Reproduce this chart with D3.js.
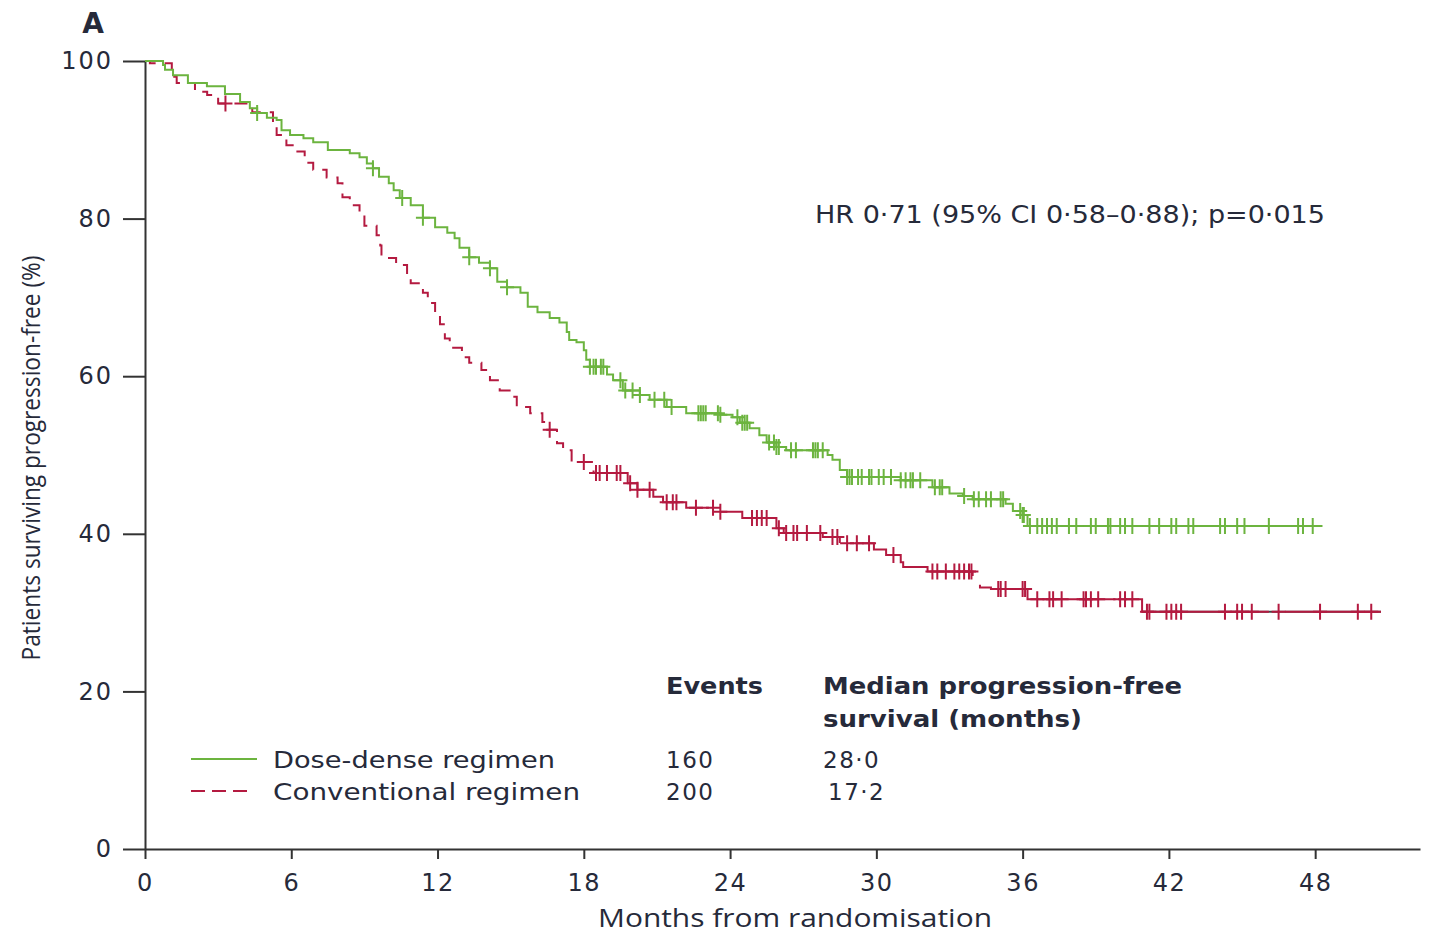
<!DOCTYPE html>
<html>
<head>
<meta charset="utf-8">
<script src="https://cdn.jsdelivr.net/npm/d3@7"></script>
<style>
  body { margin: 0; background: #fff; }
  text { fill: #262a3a; }
</style>
</head>
<body>
<svg width="1430" height="936"></svg>
<script>
// step points: month where the curve drops, and % after the drop
const denseMonths = [0, 0.74, 0.82, 1.15, 1.76, 2.54, 3.28, 3.9, 4.3, 4.6, 5.0, 5.4, 5.6, 5.95, 6.5, 6.9, 7.5, 8.4, 8.8, 9.1,
  9.35, 9.6, 10.0, 10.2, 10.45, 10.9, 11.4, 11.9, 12.4, 12.7, 12.9, 13.3, 13.7, 14.15, 14.45, 14.85, 15.4, 15.7, 16.1, 16.6,
  17.0, 17.3, 17.4, 17.7, 18.0, 18.1, 18.25, 18.95, 19.2, 19.6, 20.3, 20.7, 21.4, 22.2, 23.6, 24.1, 24.4, 24.8, 25.2, 25.5,
  25.9, 26.3, 28.0, 28.2, 28.5, 28.8, 31.0, 32.3, 33.0, 33.55, 33.95, 35.3, 35.6, 36.0, 36.2, 48.3];
const denseSurv = [100, 99.5, 98.9, 98.2, 97.2, 96.8, 95.8, 94.8, 94.0, 93.4, 92.8, 92.5, 91.2, 90.6, 90.2, 89.7, 88.7, 88.3, 87.8, 87.0,
  86.4, 85.3, 84.5, 83.6, 82.6, 81.7, 80.1, 78.9, 78.2, 77.5, 76.3, 75.1, 74.4, 73.7, 72.0, 71.3, 70.6, 68.8, 68.1, 67.4,
  66.8, 65.6, 64.6, 64.3, 63.3, 62.1, 61.2, 60.2, 59.5, 58.2, 57.6, 57.0, 56.1, 55.3, 55.1, 54.8, 54.1, 53.4, 52.5, 51.6,
  51.0, 50.6, 50.0, 49.4, 48.1, 47.2, 46.8, 45.9, 45.1, 44.8, 44.4, 43.8, 42.9, 42.4, 41.0, 41.0];
const denseCensor = [4.6, 9.35, 10.55, 11.4, 13.3, 14.15, 14.85, 18.25, 18.4, 18.5, 18.7, 18.8, 19.5, 19.7, 20.0, 20.3, 20.9, 21.3, 21.6,
  22.7, 22.8, 22.9, 23.0, 23.5, 23.6, 24.3, 24.5, 24.6, 24.7, 25.6, 25.8, 25.9, 26.0, 26.5, 26.7, 27.4, 27.5, 27.6, 27.8,
  28.8, 28.9, 29.0, 29.25, 29.4, 29.7, 29.8, 30.1, 30.3, 30.6, 31.0, 31.2, 31.4, 31.5, 31.8, 32.4, 32.6, 32.7,
  33.6, 34.0, 34.2, 34.5, 34.7, 35.1, 35.2, 35.9, 36.0, 36.05, 36.3, 36.6, 36.8, 37.0, 37.2, 37.4, 37.9, 38.2,
  38.8, 39.0, 39.5, 39.6, 40.0, 40.2, 40.5, 41.2, 41.6, 42.1, 42.3, 42.8, 43.0, 44.1, 44.3, 44.8, 45.1, 46.1, 47.3, 47.5, 47.9];

const convMonths = [0, 0.2, 1.1, 1.3, 2.05, 2.55, 3.0, 4.4, 5.25, 5.4, 5.8, 6.15, 6.55, 6.9, 7.45, 7.9, 8.1, 8.4, 8.8, 9.0, 9.5,
  9.65, 9.7, 10.3, 10.75, 10.9, 11.4, 11.6, 11.9, 12.1, 12.3, 12.5, 13.0, 13.3, 13.8, 14.15, 14.55, 15.0, 15.25, 15.8, 16.3,
  16.5, 16.9, 17.15, 17.5, 18.4, 19.8, 20.2, 20.85, 21.25, 22.2, 23.6, 24.5, 25.9, 26.2, 27.8, 28.5, 29.9, 30.4, 31.0, 31.1,
  32.1, 33.95, 34.25, 34.7, 36.2, 40.9, 50.7];
const convSurv = [100, 99.7, 98.0, 97.2, 96.1, 95.7, 94.6, 93.5, 91.6, 90.6, 89.3, 88.5, 87.1, 86.2, 85.2, 84.5, 82.7, 81.7, 80.6, 79.1, 77.9,
  76.6, 75.0, 74.1, 72.8, 71.8, 70.6, 69.3, 68.0, 66.6, 64.8, 63.6, 62.4, 61.7, 60.8, 59.5, 58.2, 57.4, 56.1, 55.3, 54.2,
  53.2, 51.5, 50.6, 49.1, 47.7, 46.4, 45.6, 44.7, 44.0, 43.3, 42.8, 42.0, 40.7, 40.1, 39.6, 38.8, 38.0, 37.3, 36.4, 35.8,
  35.2, 34.3, 33.2, 33.0, 31.7, 30.1, 30.1];
const convCensor = [3.3, 16.6, 18.0, 18.5, 18.65, 18.95, 19.35, 19.5, 19.9, 20.2, 20.7, 21.4, 21.65, 21.8, 22.6, 23.3, 23.6,
  24.9, 25.1, 25.3, 25.5, 26.0, 26.3, 26.6, 26.75, 27.15, 27.7, 28.2, 28.4, 28.8, 29.2, 29.7, 30.7, 32.3, 32.5, 32.85,
  33.2, 33.4, 33.6, 33.8, 33.9, 35.0, 35.1, 35.3, 36.0, 36.1, 36.6, 37.1, 37.25, 37.6, 38.5, 38.6, 38.8, 39.1, 40.0, 40.2,
  40.5, 41.1, 41.2, 41.9, 42.1, 42.3, 42.5, 44.3, 44.8, 45.0, 45.4, 46.5, 48.2, 49.75, 50.3];

const xTicks = [0, 6, 12, 18, 24, 30, 36, 42, 48];
const yTicks = [0, 20, 40, 60, 80, 100];
const groups = ["Dose-dense regimen", "Conventional regimen"];
const events = ["160", "200"];
const medians = ["28·0", "17·2"];

const green = "#6cb43f";
const red = "#b41a40";
const ink = "#262a3a";

const svg = d3.select("svg");
const x = d3.scaleLinear().domain([0, 52.3]).range([145, 1420]);
const y = d3.scaleLinear().domain([0, 100]).range([849, 61]);

// axes
svg.append("g")
    .attr("transform", `translate(0,${y(0)})`)
    .call(d3.axisBottom(x).tickValues(xTicks).tickSize(10).tickPadding(15).tickSizeOuter(0))
    .call(g => g.selectAll("line, path").attr("stroke", "#333").attr("stroke-width", 2))
    .call(g => g.selectAll("text").attr("font-family", "DejaVu Sans").attr("font-size", 24)
        .attr("letter-spacing", 1.5).attr("fill", ink));

svg.append("g")
    .attr("transform", `translate(${x(0)},0)`)
    .call(d3.axisLeft(y).tickValues(yTicks).tickSize(22).tickPadding(10).tickSizeOuter(0))
    .call(g => g.selectAll("line, path").attr("stroke", "#333").attr("stroke-width", 2))
    .call(g => g.selectAll("text").attr("font-family", "DejaVu Sans").attr("font-size", 24)
        .attr("letter-spacing", 2).attr("fill", ink));

// axis titles
svg.append("text")
    .attr("x", 795).attr("y", 927)
    .attr("text-anchor", "middle")
    .attr("font-family", "Open Sans")
    .attr("font-size", 25)
    .attr("textLength", 394).attr("lengthAdjust", "spacingAndGlyphs")
    .text("Months from randomisation");

svg.append("text")
    .attr("transform", "translate(40,458) rotate(-90)")
    .attr("text-anchor", "middle")
    .attr("font-family", "Open Sans")
    .attr("font-size", 26)
    .attr("textLength", 405).attr("lengthAdjust", "spacingAndGlyphs")
    .text("Patients surviving progression-free (%)");

svg.append("text")
    .attr("x", 93).attr("y", 33)
    .attr("text-anchor", "middle")
    .attr("font-family", "DejaVu Sans").attr("font-weight", "bold")
    .attr("font-size", 28)
    .text("A");

// curves
const line = d3.line()
    .x(d => x(d[0]))
    .y(d => y(d[1]))
    .curve(d3.curveStepAfter);

const dense = d3.zip(denseMonths, denseSurv);
const conv = d3.zip(convMonths, convSurv);

const plot = svg.append("g").attr("fill", "none").attr("stroke-width", 2);

// dark tail of the conventional curve
plot.append("path")
    .attr("d", line(conv.filter(d => d[0] >= 40.9)))
    .attr("stroke", "#444");

plot.append("path")
    .attr("d", line(conv.filter(d => d[0] <= 18.4)))
    .attr("stroke", red)
    .attr("stroke-dasharray", "13,9");

plot.append("path")
    .attr("d", line(conv.filter(d => d[0] >= 18.4)))
    .attr("stroke", red)
    .attr("stroke-dasharray", "150,16");

plot.append("path")
    .attr("d", line(dense))
    .attr("stroke", green);

// censor marks
function survAt(months, surv, t) {
    const i = d3.bisectRight(months, t) - 1;
    return surv[Math.max(0, i)];
}

const tick = "M-7,0H7M0,-8V8";

plot.append("g")
    .attr("stroke", red)
    .selectAll("path")
    .data(convCensor)
    .join("path")
    .attr("d", tick)
    .attr("transform", d => `translate(${x(d)},${y(survAt(convMonths, convSurv, d))})`);

plot.append("g")
    .attr("stroke", green)
    .selectAll("path")
    .data(denseCensor)
    .join("path")
    .attr("d", tick)
    .attr("transform", d => `translate(${x(d)},${y(survAt(denseMonths, denseSurv, d))})`);

// annotation
svg.append("text")
    .attr("x", 815).attr("y", 223)
    .attr("font-family", "DejaVu Sans")
    .attr("font-size", 24)
    .attr("textLength", 510).attr("lengthAdjust", "spacingAndGlyphs")
    .text("HR 0·71 (95% CI 0·58–0·88); p=0·015");

// legend table
const lg = svg.append("g").attr("font-family", "DejaVu Sans").attr("font-size", 23);

lg.append("text").attr("x", 666).attr("y", 694).attr("font-weight", "bold")
    .attr("textLength", 97).attr("lengthAdjust", "spacingAndGlyphs").text("Events");
lg.append("text").attr("x", 823).attr("y", 694).attr("font-weight", "bold")
    .attr("textLength", 359).attr("lengthAdjust", "spacingAndGlyphs").text("Median progression-free");
lg.append("text").attr("x", 823).attr("y", 727).attr("font-weight", "bold")
    .attr("textLength", 259).attr("lengthAdjust", "spacingAndGlyphs").text("survival (months)");

const rowY = [768, 800];
const labelLen = [282, 307];
const medianX = [823, 828];

groups.forEach((name, i) => {
    lg.append("line")
        .attr("x1", 191).attr("x2", i === 0 ? 257 : 250)
        .attr("y1", rowY[i] - 9).attr("y2", rowY[i] - 9)
        .attr("stroke", i === 0 ? green : red)
        .attr("stroke-width", 2)
        .attr("stroke-dasharray", i === 0 ? null : "14,7");
    lg.append("text").attr("x", 273).attr("y", rowY[i])
        .attr("textLength", labelLen[i]).attr("lengthAdjust", "spacingAndGlyphs").text(name);
    lg.append("text").attr("x", 666).attr("y", rowY[i])
        .attr("letter-spacing", 1.5).text(events[i]);
    lg.append("text").attr("x", medianX[i]).attr("y", rowY[i])
        .attr("letter-spacing", 1.5).text(medians[i]);
});
</script>
</body>
</html>
